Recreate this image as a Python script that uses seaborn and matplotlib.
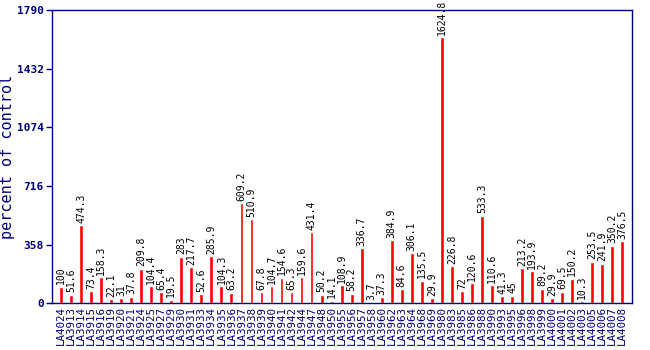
import matplotlib
matplotlib.use("Agg")
import matplotlib.pyplot as plt
import seaborn as sns
import pandas as pd

samples = ["LA4024", "LA3913", "LA3914", "LA3915", "LA3916", "LA3919", "LA3920", "LA3921",
           "LA3924", "LA3925", "LA3927", "LA3929", "LA3930", "LA3931", "LA3933", "LA3934",
           "LA3935", "LA3936", "LA3937", "LA3938", "LA3939", "LA3940", "LA3941", "LA3942",
           "LA3944", "LA3947", "LA3948", "LA3950", "LA3955", "LA3956", "LA3957", "LA3958",
           "LA3960", "LA3962", "LA3963", "LA3964", "LA3968", "LA3969", "LA3980", "LA3983",
           "LA3985", "LA3986", "LA3988", "LA3990", "LA3993", "LA3995", "LA3996", "LA3998",
           "LA3999", "LA4000", "LA4001", "LA4002", "LA4003", "LA4005", "LA4006", "LA4007",
           "LA4008"]
values = [100, 51.6, 474.3, 73.4, 158.3, 22.1, 31, 37.8,
          209.8, 104.4, 65.4, 19.5, 283, 217.7, 52.6, 285.9,
          104.3, 63.2, 609.2, 510.9, 67.8, 104.7, 154.6, 65.3,
          159.6, 431.4, 50.2, 14.1, 108.9, 58.2, 336.7, 3.7,
          37.3, 384.9, 84.6, 306.1, 135.5, 29.9, 1624.8, 226.8,
          72, 120.6, 533.3, 110.6, 41.3, 45, 213.2, 193.9,
          89.2, 29.9, 69.5, 150.2, 10.3, 253.5, 241.9, 350.2,
          376.5]
y_ticks = [0, 358, 716, 1074, 1432, 1790]

df = pd.DataFrame({"sample": samples, "value": values})

sns.set_style("white")
plt.rcParams["font.family"] = ["DejaVu Sans Mono"]
navy = "#000080"

fig = plt.figure(figsize=(6.5, 3.5), dpi=100)
ax = fig.add_axes([0.08, 0.134, 0.892, 0.837])

sns.barplot(data=df, x="sample", y="value", color="#ff0000", width=0.38,
            saturation=1, ax=ax)

for i, v in enumerate(values):
    ax.text(i, v + 15, f"{v:g}", rotation=90, ha="center", va="bottom",
            fontsize=7, color="black")

ax.set_xlim(-0.9, len(samples) - 0.05)
ax.set_ylim(0, 1790)
ax.set_yticks(y_ticks)
ax.set_yticklabels([str(t) for t in y_ticks], color=navy, fontsize=8, fontweight="bold")
ax.tick_params(axis="y", length=4, color=navy, width=1, direction="out", left=True, pad=2)
ax.tick_params(axis="x", length=0, labelrotation=90, labelsize=7.8, labelcolor=navy, pad=2)
ax.set_xlabel("")
ax.set_ylabel("percent of control", color=navy, fontsize=11)
ax.yaxis.set_label_coords(-0.063, 0.5)
for s in ax.spines.values():
    s.set_color(navy)
    s.set_linewidth(1)

fig.savefig("out.png", dpi=100)
